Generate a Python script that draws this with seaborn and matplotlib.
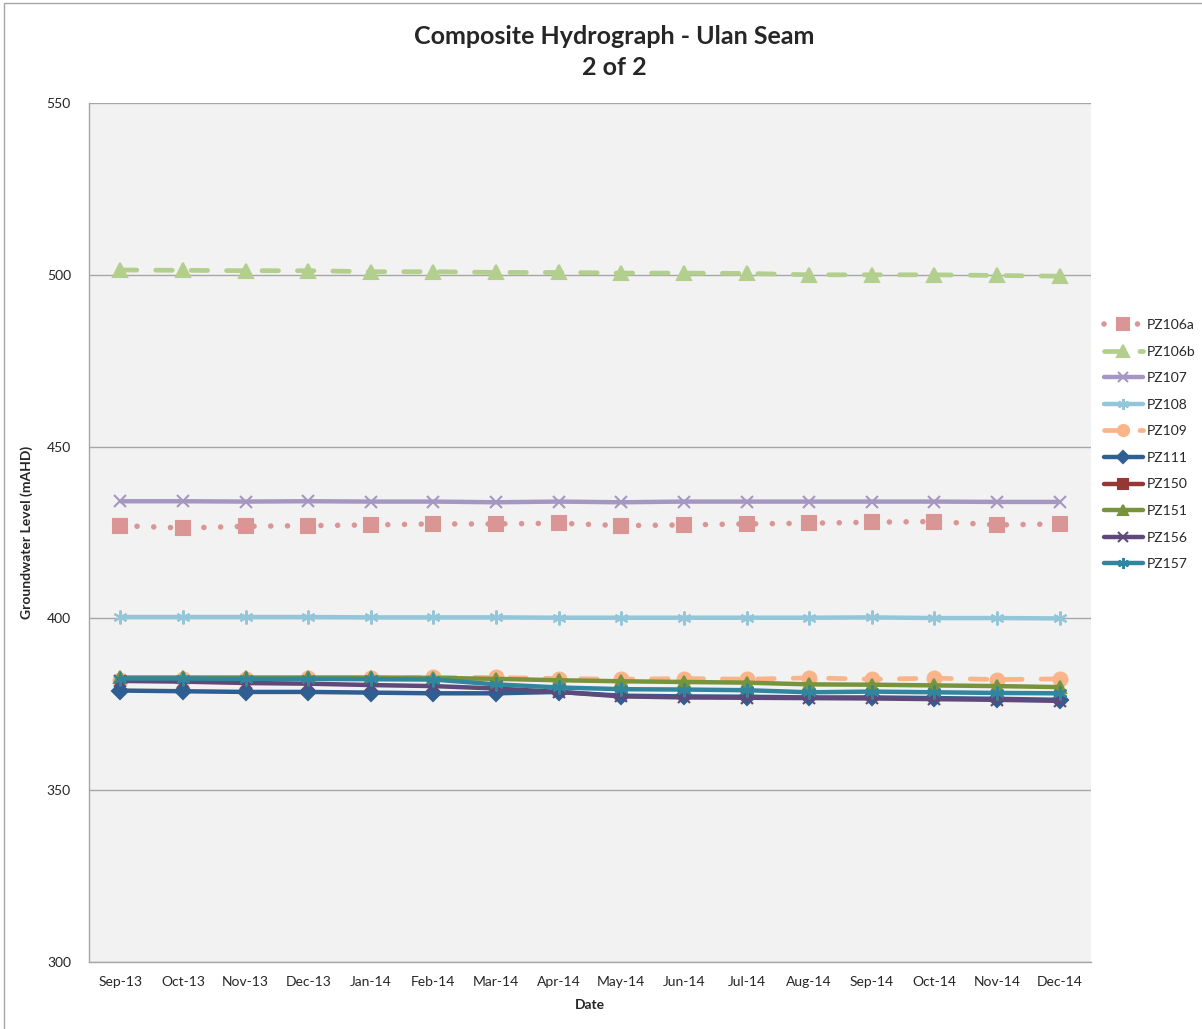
"""
Composite hydrograph for the Ulan Seam piezometers (2 of 2).
Monthly groundwater levels, Sep-13 to Dec-14, one line per piezometer.
"""

import numpy as np
import pandas as pd
import matplotlib.pyplot as plt
from matplotlib.lines import Line2D
from matplotlib.patches import Rectangle
import seaborn as sns

# data (mAHD)
MONTHS = ['Sep-13', 'Oct-13', 'Nov-13', 'Dec-13', 'Jan-14', 'Feb-14', 'Mar-14',
          'Apr-14', 'May-14', 'Jun-14', 'Jul-14', 'Aug-14', 'Sep-14', 'Oct-14',
          'Nov-14', 'Dec-14']
PZ106A = [427.0, 426.3, 426.8, 427.0, 427.2, 427.5, 427.5, 427.7, 427.0, 427.2,
          427.5, 427.7, 428.0, 428.2, 427.2, 427.5]
PZ106B = [501.4, 501.3, 501.2, 501.2, 500.9, 500.9, 500.7, 500.7, 500.5, 500.5,
          500.4, 500.0, 500.0, 500.0, 499.8, 499.6]
PZ107 = [434.1, 434.1, 434.0, 434.1, 434.0, 434.0, 433.8, 434.0, 433.8, 434.0,
         434.0, 434.0, 434.0, 434.0, 433.9, 433.9]
PZ108 = [400.4, 400.4, 400.4, 400.4, 400.3, 400.3, 400.3, 400.2, 400.2, 400.2,
         400.2, 400.2, 400.3, 400.1, 400.1, 400.0]
PZ109 = [382.0, 382.3, 382.5, 382.6, 382.6, 382.8, 382.8, 382.5, 382.3, 382.5,
         382.3, 382.7, 382.3, 382.6, 382.2, 382.4]
PZ111 = [379.0, 378.8, 378.6, 378.6, 378.4, 378.2, 378.2, 378.6, 377.5, 377.3,
         377.2, 377.0, 377.0, 376.8, 376.6, 376.3]
PZ150 = [np.nan] * 16   # no visible record in the reference
PZ151 = [382.8, 382.8, 382.8, 382.8, 382.8, 382.7, 382.4, 382.0, 381.7, 381.5,
         381.3, 380.8, 380.7, 380.5, 380.3, 380.0]
PZ156 = [381.8, 381.6, 381.2, 381.0, 380.6, 380.3, 379.6, 378.6, 377.3, 377.0,
         376.9, 376.8, 376.7, 376.5, 376.3, 376.0]
PZ157 = [382.5, 382.5, 382.4, 382.4, 382.3, 382.2, 380.8, 379.9, 379.4, 379.3,
         379.1, 378.5, 378.7, 378.5, 378.3, 378.2]

SERIES = ['PZ106a', 'PZ106b', 'PZ107', 'PZ108', 'PZ109', 'PZ111', 'PZ150',
          'PZ151', 'PZ156', 'PZ157']
VALUES = [PZ106A, PZ106B, PZ107, PZ108, PZ109, PZ111, PZ150, PZ151, PZ156, PZ157]

# line styles per piezometer (Excel-like)
STAR = (6, 2, 0)
STYLES = {
    'PZ106a': dict(color='#D99694', ls=(0, (0.01, 3.0)), lw=4.0, marker='s', ms=10),
    'PZ106b': dict(color='#B3CF8E', ls=(0, (3.5, 4.0)), lw=3.4, marker='^', ms=10),
    'PZ107':  dict(color='#A597C1', ls='-', lw=3.2, marker='x', ms=9),
    'PZ108':  dict(color='#93C6D9', ls='-', lw=3.2, marker=STAR, ms=10),
    'PZ109':  dict(color='#FAB48A', ls=(0, (3.5, 4.0)), lw=3.4, marker='o', ms=10),
    'PZ111':  dict(color='#2F5E93', ls='-', lw=3.2, marker='D', ms=8),
    'PZ150':  dict(color='#953735', ls='-', lw=3.2, marker='s', ms=9),
    'PZ151':  dict(color='#77933C', ls='-', lw=3.2, marker='^', ms=9),
    'PZ156':  dict(color='#5F497A', ls='-', lw=3.2, marker='x', ms=9),
    'PZ157':  dict(color='#31859C', ls='-', lw=3.2, marker=STAR, ms=10),
}

FONT = ['Liberation Sans Narrow', 'Lato', 'DejaVu Sans']


def main():
    sns.set_style('white')
    plt.rcParams['font.family'] = FONT

    df = pd.DataFrame({'month': np.tile(MONTHS, len(SERIES)),
                       'piezo': np.repeat(SERIES, len(MONTHS)),
                       'level': np.concatenate(VALUES)})
    df['idx'] = np.tile(np.arange(len(MONTHS)), len(SERIES))

    fig = plt.figure(figsize=(12.02, 10.29), dpi=100)
    ax = fig.add_axes([89 / 1202, 1 - 962 / 1029, 1002 / 1202, 859 / 1029])
    ax.set_facecolor('#F2F2F2')

    handles = []
    for name in SERIES:
        st = STYLES[name]
        sub = df.loc[df['piezo'] == name].dropna()
        if len(sub):
            sns.lineplot(data=sub, x='idx', y='level', ax=ax, color=st['color'],
                         linestyle=st['ls'], linewidth=st['lw'],
                         marker=st['marker'], markersize=st['ms'],
                         markeredgewidth=1.5, markeredgecolor=st['color'],
                         dash_capstyle='round', solid_capstyle='butt', zorder=3)
        handles.append(Line2D([], [], color=st['color'], ls=st['ls'],
                              lw=st['lw'], marker=st['marker'],
                              ms=st['ms'] * 0.8, mew=1.5,
                              dash_capstyle='round'))

    # axes
    ax.set_ylim(300, 550)
    ax.set_yticks(np.arange(300, 551, 50))
    ax.set_xlim(-0.5, len(MONTHS) - 0.5)
    ax.set_xticks(np.arange(len(MONTHS)), labels=MONTHS)
    ax.set_xticks(np.arange(len(MONTHS) + 1) - 0.5, minor=True)
    ax.tick_params(axis='x', which='major', length=0, pad=10, labelsize=10)
    ax.tick_params(axis='x', which='minor', length=5, color='#A6A6A6', width=1)
    ax.tick_params(axis='y', length=5, color='#A6A6A6', labelsize=10, pad=8)
    ax.grid(axis='y', color='#A6A6A6', lw=1)
    ax.set_axisbelow(True)
    for side in ['top', 'right']:
        ax.spines[side].set_visible(False)
    for side in ['left', 'bottom']:
        ax.spines[side].set_color('#A6A6A6')
        ax.spines[side].set_linewidth(1)

    ax.set_xlabel('Date', fontsize=10, fontweight='bold', labelpad=8)
    ax.set_ylabel('Groundwater Level (mAHD)', fontsize=10, fontweight='bold',
                  labelpad=10)

    # title
    fig.text(614 / 1202, 1 - 52 / 1029,
             'Composite Hydrograph - Ulan Seam\n2 of 2', ha='center',
             va='center', fontsize=18, fontweight='bold', linespacing=1.45)

    # legend at the right
    ax.legend(handles, SERIES, loc='upper left', frameon=False,
              bbox_to_anchor=(1104 / 1202, 1 - 319 / 1029),
              bbox_transform=fig.transFigure, fontsize=10, handlelength=2.8,
              handletextpad=0.25, labelspacing=1.05, borderpad=0,
              borderaxespad=0)

    # outer chart border
    fig.patches.append(Rectangle((4 / 1202, -0.01), 1.1, 1 - 3 / 1029 + 0.01,
                                 transform=fig.transFigure, fill=False,
                                 edgecolor='#A6A6A6', lw=1))

    fig.savefig('out.png', dpi=100)


if __name__ == '__main__':
    main()
